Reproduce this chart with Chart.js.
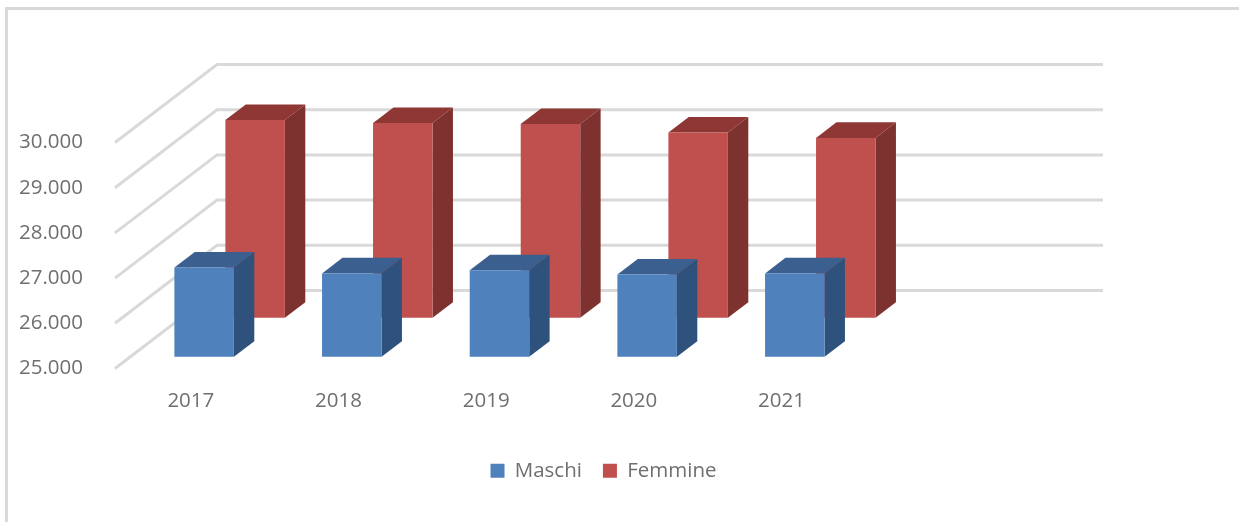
<!DOCTYPE html>
<html lang="it">
<head>
    <meta charset="UTF-8">
    <title>Maschi e Femmine 2017-2021</title>
    <script src="https://cdn.jsdelivr.net/npm/chart.js"></script>
    <style>
        html, body {
            margin: 0;
            padding: 0;
            background: #ffffff;
            overflow: hidden;
        }

        canvas {
            display: block;
        }

        .frame {
            position: absolute;
            left: 5px;
            top: 7px;
            right: 0;
            bottom: 0;
            border-left: 3px solid #d9d9d9;
            border-top: 3px solid #d9d9d9;
        }
    </style>
</head>
<body>
    <canvas id="chart" width="1239" height="522"></canvas>
    <div class="frame"></div>

    <script>
        const categories = ['2017', '2018', '2019', '2020', '2021', ''];
        const maschi = [26975, 26845, 26915, 26820, 26845, null];
        const femmine = [29375, 29310, 29285, 29100, 28980, null];
        const tickLabels = ['25.000', '26.000', '27.000', '28.000', '29.000', '30.000'];

        const textColor = '#6f6f6f';
        const fontFamily = '"Open Sans", sans-serif';

        // floor depth of the fake 3D box, in pixels
        const wallDx = 102;
        const wallDy = 78;
        const barDepth = 0.2;

        function face(ctx, color, pts) {
            ctx.fillStyle = color;
            ctx.beginPath();
            pts.forEach((p, i) => (i ? ctx.lineTo(p[0], p[1]) : ctx.moveTo(p[0], p[1])));
            ctx.closePath();
            ctx.fill();
        }

        const box3d = {
            id: 'box3d',
            afterLayout(chart) {
                // legend is not centred on the page in the original
                chart.legend.left = 0;
                chart.legend.right = 1207;
            },
            beforeDatasetsDraw(chart) {
                const { ctx, chartArea, scales } = chart;
                ctx.save();
                ctx.strokeStyle = '#d9d9d9';
                ctx.lineWidth = 3;
                scales.y.ticks.forEach((t) => {
                    const y = scales.y.getPixelForValue(t.value);
                    ctx.beginPath();
                    ctx.moveTo(chartArea.left, y);
                    ctx.lineTo(chartArea.left + wallDx, y - wallDy);
                    ctx.lineTo(chartArea.right + wallDx, y - wallDy);
                    ctx.stroke();
                });
                ctx.restore();
            },
            beforeDatasetDraw(chart, args) {
                const { ctx, scales } = chart;
                const ds = chart.data.datasets[args.index];
                const dx = wallDx * barDepth;
                const dy = wallDy * barDepth;
                const ox = wallDx * ds.depth;
                const oy = wallDy * ds.depth;
                const base = scales.y.getPixelForValue(scales.y.min);
                args.meta.data.forEach((el, i) => {
                    if (ds.data[i] === null) return;
                    const l = el.x - el.width / 2 + ox;
                    const r = el.x + el.width / 2 + ox;
                    const t = el.y - oy;
                    const b = base - oy;
                    face(ctx, ds.topColor, [[l, t], [l + dx, t - dy], [r + dx, t - dy], [r, t]]);
                    face(ctx, ds.sideColor, [[r, t], [r + dx, t - dy], [r + dx, b - dy], [r, b]]);
                    face(ctx, ds.backgroundColor, [[l, t], [r, t], [r, b], [l, b]]);
                });
                return false;
            },
        };

        new Chart(document.getElementById('chart'), {
            type: 'bar',
            data: {
                labels: categories,
                datasets: [
                    {
                        label: 'Maschi',
                        data: maschi,
                        backgroundColor: '#4f81bd',
                        sideColor: '#2f527c',
                        topColor: '#3b6090',
                        depth: 0.15,
                    },
                    {
                        label: 'Femmine',
                        data: femmine,
                        backgroundColor: '#c0504d',
                        sideColor: '#7d3230',
                        topColor: '#8e3735',
                        depth: 0.65,
                    },
                ],
            },
            options: {
                responsive: false,
                animation: false,
                grouped: false,
                categoryPercentage: 1,
                barPercentage: 0.403,
                layout: {
                    padding: { left: 0, right: 238, top: 142.5, bottom: 31 },
                },
                plugins: {
                    tooltip: { enabled: false },
                    legend: {
                        position: 'bottom',
                        labels: {
                            boxWidth: 14,
                            boxHeight: 14,
                            padding: 21,
                            color: textColor,
                            font: { family: fontFamily, size: 20.5 },
                        },
                    },
                },
                scales: {
                    x: {
                        grid: { display: false },
                        border: { display: false },
                        afterFit(scale) {
                            scale.height = 71;
                        },
                        ticks: {
                            autoSkip: false,
                            maxRotation: 0,
                            padding: 12,
                            labelOffset: 2,
                            color: textColor,
                            font: { family: fontFamily, size: 20.5 },
                        },
                    },
                    y: {
                        min: 25000,
                        max: 30000,
                        grid: { display: false, drawTicks: false },
                        border: { display: false },
                        afterFit(scale) {
                            scale.width = 115;
                        },
                        ticks: {
                            stepSize: 1000,
                            padding: 32,
                            color: textColor,
                            font: { family: fontFamily, size: 20.5 },
                            callback: (value, i) => tickLabels[i],
                        },
                    },
                },
            },
            plugins: [box3d],
        });
    </script>
</body>
</html>
